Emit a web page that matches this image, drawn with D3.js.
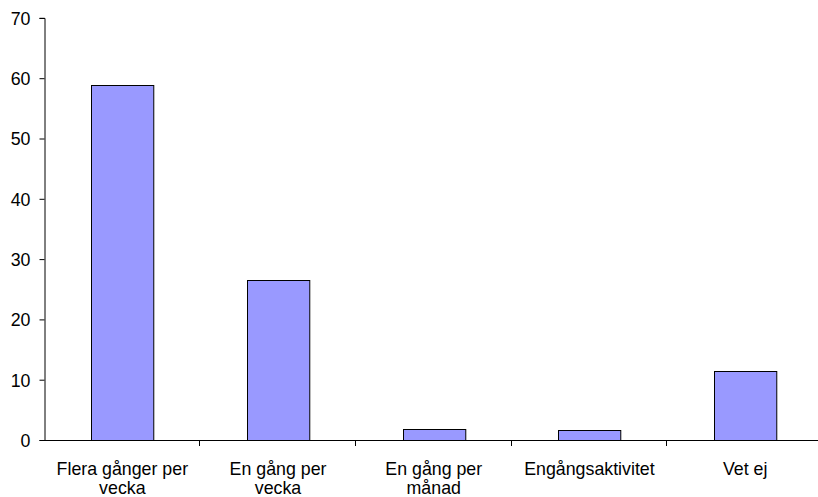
<!DOCTYPE html>
<html>
<head>
<meta charset="utf-8">
<script src="https://cdn.jsdelivr.net/npm/d3@7"></script>
<style>
  html, body { margin: 0; padding: 0; background: #fff; }
  svg { display: block; }
  text { font-family: "Liberation Sans", Arial, sans-serif; fill: #000; }
</style>
</head>
<body>
<svg id="chart" width="818" height="497"></svg>
<script>
// Frequency categories (two-line labels) and their percentages
const categories = ["Flera gånger per vecka", "En gång per vecka", "En gång per månad", "Engångsaktivitet", "Vet ej"];
const labelLines = [["Flera gånger per", "vecka"], ["En gång per", "vecka"], ["En gång per", "månad"], ["Engångsaktivitet"], ["Vet ej"]];
const values = [58.8, 26.6, 1.8, 1.7, 11.4];
const yTicks = [0, 10, 20, 30, 40, 50, 60, 70];

const svg = d3.select("#chart");
const plotLeft = 44.5, plotRight = 823, plotTop = 17.9, plotBottom = 440;
const fontSize = 17.8;

const x = d3.scaleBand().domain(categories).range([plotLeft, plotRight]).paddingInner(0.6).paddingOuter(0.3);
const y = d3.scaleLinear().domain([0, 70]).range([plotBottom, plotTop]);

// Bars
svg.append("g").selectAll("rect")
  .data(categories)
  .join("rect")
  .attr("x", (d) => Math.round(x(d)) + 0.5)
  .attr("y", (d, i) => Math.round(y(values[i])) + 0.5)
  .attr("width", x.bandwidth())
  .attr("height", (d, i) => Math.round(y(0)) - Math.round(y(values[i])))
  .attr("fill", "#9999ff")
  .attr("stroke", "#000")
  .attr("stroke-width", 1);

// Y axis
const yAxis = svg.append("g")
  .attr("transform", `translate(${Math.round(plotLeft) - 0.5},0)`)
  .call(d3.axisLeft(y).tickValues(yTicks).tickSize(5).tickPadding(9).tickFormat(d3.format("d")));
yAxis.attr("font-family", null).attr("font-size", null);
yAxis.select(".domain").attr("stroke", "#000");
yAxis.selectAll(".tick line").attr("stroke", "#000");
yAxis.selectAll("text").style("font-size", fontSize + "px").attr("dy", "0.36em");

// X axis: line along the baseline with ticks on the category boundaries
const boundaries = d3.range(categories.length + 1).map((i) => plotLeft + i * (plotRight - plotLeft) / categories.length);
const xg = svg.append("g");
xg.append("line")
  .attr("x1", plotLeft - 0.5).attr("x2", plotRight)
  .attr("y1", Math.round(plotBottom) + 0.5).attr("y2", Math.round(plotBottom) + 0.5)
  .attr("stroke", "#000");
xg.selectAll("line.tick")
  .data(boundaries.slice(1))
  .join("line")
  .attr("class", "tick")
  .attr("x1", (d) => Math.round(d) - 0.5).attr("x2", (d) => Math.round(d) - 0.5)
  .attr("y1", Math.round(plotBottom)).attr("y2", Math.round(plotBottom) + 6)
  .attr("stroke", "#000");

// Category labels
const lbl = xg.selectAll("text.cat")
  .data(categories)
  .join("text")
  .attr("class", "cat")
  .attr("text-anchor", "middle")
  .style("font-size", fontSize + "px")
  .attr("x", (d) => x(d) + x.bandwidth() / 2)
  .attr("y", plotBottom + 35);
lbl.each(function (d, i) {
  const t = d3.select(this);
  labelLines[i].forEach((line, j) => {
    t.append("tspan")
      .attr("x", x(d) + x.bandwidth() / 2)
      .attr("dy", j === 0 ? 0 : 18.7)
      .text(line);
  });
});
</script>
</body>
</html>
